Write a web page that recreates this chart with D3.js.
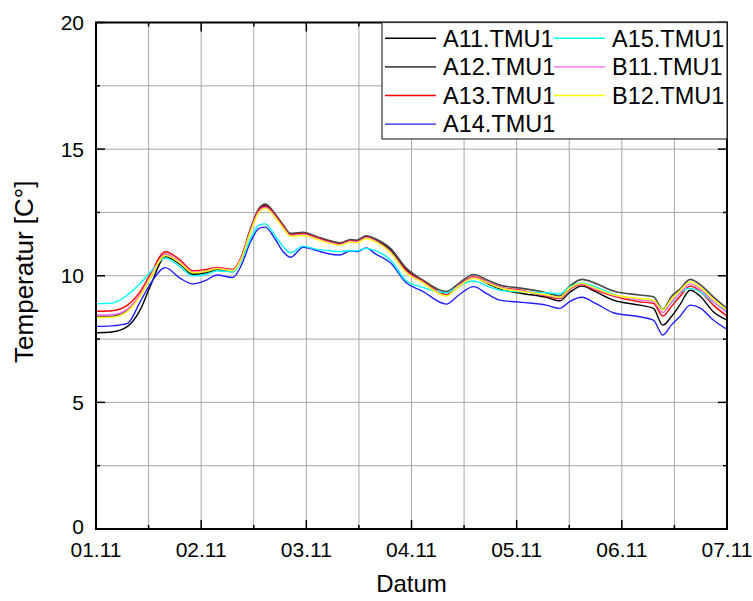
<!DOCTYPE html>
<html>
<head>
<meta charset="utf-8">
<script src="https://cdn.jsdelivr.net/npm/d3@7"></script>
<style>
  body { margin: 0; background: #fff; }
  svg text { font-family: "Liberation Sans", Arial, sans-serif; fill: #000; }
</style>
</head>
<body>
<div id="chart"></div>
<script>
// time in days after 01.11 00:00
const days = [0, 0.15, 0.3, 0.42, 0.52, 0.66, 0.8, 0.92, 1.05, 1.15, 1.3, 1.38, 1.47, 1.55, 1.61, 1.7, 1.78, 1.85, 1.97, 2.1,
  2.2, 2.32, 2.42, 2.48, 2.57, 2.65, 2.8, 2.95, 3.1, 3.33, 3.45, 3.59, 3.72, 3.84, 4.05, 4.28, 4.41, 4.5, 4.62, 4.75,
  4.92, 5.17, 5.3, 5.39, 5.47, 5.55, 5.65, 5.75, 5.87, 6.0];

const a11 = [7.75, 7.78, 8.0, 8.65, 9.63, 10.75, 10.45, 10.05, 10.12, 10.22, 10.17, 10.65, 11.8, 12.6, 12.78, 12.42, 11.95, 11.62, 11.66, 11.5,
  11.37, 11.26, 11.39, 11.36, 11.54, 11.43, 11.03, 10.24, 9.78, 9.25, 9.58, 9.92, 9.7, 9.48, 9.3, 9.15, 9.01, 9.33, 9.59, 9.37,
  9.04, 8.84, 8.71, 8.05, 8.38, 8.84, 9.43, 9.17, 8.58, 8.25];
const a12 = [8.4, 8.4, 8.65, 9.24, 9.96, 10.85, 10.49, 10.1, 10.16, 10.25, 10.2, 10.7, 11.87, 12.66, 12.83, 12.46, 12.0, 11.67, 11.71, 11.54,
  11.41, 11.3, 11.43, 11.4, 11.58, 11.47, 11.08, 10.3, 9.85, 9.37, 9.7, 10.05, 9.83, 9.63, 9.5, 9.33, 9.2, 9.57, 9.86, 9.7,
  9.4, 9.24, 9.17, 8.67, 9.17, 9.46, 9.86, 9.63, 9.17, 8.7];
const a13 = [8.6, 8.62, 8.84, 9.37, 10.09, 10.95, 10.62, 10.2, 10.25, 10.33, 10.25, 10.72, 11.82, 12.6, 12.75, 12.4, 11.95, 11.62, 11.66, 11.5,
  11.37, 11.25, 11.38, 11.35, 11.52, 11.4, 10.95, 10.2, 9.8, 9.25, 9.62, 9.96, 9.75, 9.55, 9.42, 9.2, 9.1, 9.45, 9.65, 9.43,
  9.2, 8.97, 8.91, 8.41, 8.78, 9.17, 9.59, 9.37, 8.84, 8.41];
const a14 = [8.0, 8.02, 8.12, 8.97, 9.7, 10.32, 9.9, 9.68, 9.83, 10.03, 9.93, 10.4, 11.34, 11.87, 11.92, 11.47, 10.95, 10.73, 11.12, 10.99,
  10.88, 10.82, 10.99, 10.95, 11.1, 10.88, 10.51, 9.72, 9.4, 8.88, 9.24, 9.57, 9.28, 9.04, 8.95, 8.84, 8.71, 8.97, 9.15, 8.91,
  8.54, 8.38, 8.25, 7.66, 8.05, 8.38, 8.84, 8.71, 8.25, 7.88];
const a15 = [8.9, 8.92, 9.24, 9.7, 10.16, 10.7, 10.35, 10.0, 10.06, 10.2, 10.15, 10.6, 11.47, 12.0, 12.05, 11.6, 11.15, 10.91, 11.17, 11.04,
  11.0, 10.95, 11.0, 10.98, 11.08, 11.0, 10.62, 9.8, 9.55, 9.33, 9.6, 9.79, 9.59, 9.43, 9.37, 9.33, 9.28, 9.55, 9.72, 9.56,
  9.27, 9.05, 9.0, 8.65, 8.91, 9.3, 9.5, 9.35, 8.95, 8.62];
const b11 = [8.45, 8.46, 8.68, 9.26, 10.0, 10.84, 10.54, 10.15, 10.2, 10.3, 10.22, 10.68, 11.78, 12.55, 12.7, 12.36, 11.91, 11.59, 11.63, 11.47,
  11.34, 11.23, 11.36, 11.33, 11.5, 11.39, 10.94, 10.15, 9.77, 9.22, 9.6, 9.93, 9.74, 9.54, 9.4, 9.23, 9.13, 9.48, 9.68, 9.47,
  9.23, 9.05, 8.98, 8.55, 8.95, 9.3, 9.68, 9.45, 8.97, 8.55];
const b12 = [8.35, 8.36, 8.6, 9.2, 9.95, 10.8, 10.5, 10.12, 10.18, 10.28, 10.2, 10.65, 11.75, 12.5, 12.66, 12.32, 11.88, 11.56, 11.6, 11.44,
  11.31, 11.2, 11.33, 11.3, 11.47, 11.36, 10.92, 10.12, 9.75, 9.2, 9.58, 9.9, 9.72, 9.52, 9.38, 9.25, 9.15, 9.5, 9.7, 9.5,
  9.25, 9.1, 9.04, 8.65, 9.07, 9.4, 9.76, 9.52, 9.07, 8.65];

const seriesNames = ["A11.TMU1", "A12.TMU1", "A13.TMU1", "A14.TMU1", "A15.TMU1", "B11.TMU1", "B12.TMU1"];
const seriesValues = [a11, a12, a13, a14, a15, b11, b12];
const seriesColors = ["#000000", "#4a4a4a", "#ff0000", "#2020ff", "#00ffff", "#ff66ff", "#ffff00"];

const dayLabels = ["01.11", "02.11", "03.11", "04.11", "05.11", "06.11", "07.11"];
const yLabels = [0, 5, 10, 15, 20];

const width = 753, height = 601;
const margin = {top: 22.5, right: 26, bottom: 72, left: 96};

const svg = d3.select("#chart").append("svg")
  .attr("width", width)
  .attr("height", height);

const x = d3.scaleLinear().domain([0, 6]).range([margin.left, width - margin.right]);
const y = d3.scaleLinear().domain([0, 20]).range([height - margin.bottom, margin.top]);

const x0 = x(0), x1 = x(6), y0 = y(0), y1 = y(20);

// grid
const grid = svg.append("g").attr("stroke", "#a6a6a6").attr("stroke-width", 1);
d3.range(0.5, 6, 0.5).forEach(d => {
  grid.append("line").attr("x1", x(d)).attr("x2", x(d)).attr("y1", y0).attr("y2", y1);
});
d3.range(2.5, 20, 2.5).forEach(v => {
  grid.append("line").attr("x1", x0).attr("x2", x1).attr("y1", y(v)).attr("y2", y(v));
});

// curves
svg.append("clipPath").attr("id", "clip")
  .append("rect").attr("x", x0).attr("y", y1).attr("width", x1 - x0).attr("height", y0 - y1);

const line = d3.line()
  .x((d, i) => x(days[i]))
  .y(d => y(d))
  .curve(d3.curveMonotoneX);

svg.append("g").attr("clip-path", "url(#clip)")
  .selectAll("path")
  .data(seriesValues)
  .enter().append("path")
  .attr("fill", "none")
  .attr("stroke", (d, i) => seriesColors[i])
  .attr("stroke-width", (d, i) => i == 1 ? 1.7 : 1.4)
  .attr("d", line);

// ticks, inward on all sides
const ticks = svg.append("g").attr("stroke", "#000").attr("stroke-width", 1.5);
d3.range(0, 6.01, 0.5).forEach(d => {
  const len = d % 1 == 0 ? 9 : 4;
  ticks.append("line").attr("x1", x(d)).attr("x2", x(d)).attr("y1", y0).attr("y2", y0 - len);
  ticks.append("line").attr("x1", x(d)).attr("x2", x(d)).attr("y1", y1).attr("y2", y1 + len);
});
d3.range(0, 20.01, 2.5).forEach(v => {
  const len = v % 5 == 0 ? 9 : 4;
  ticks.append("line").attr("x1", x0).attr("x2", x0 + len).attr("y1", y(v)).attr("y2", y(v));
  ticks.append("line").attr("x1", x1).attr("x2", x1 - len).attr("y1", y(v)).attr("y2", y(v));
});

// frame
svg.append("rect")
  .attr("x", x0).attr("y", y1)
  .attr("width", x1 - x0).attr("height", y0 - y1)
  .attr("fill", "none").attr("stroke", "#000").attr("stroke-width", 2);

// tick labels
svg.append("g").selectAll("text")
  .data(dayLabels).enter().append("text")
  .attr("x", (d, i) => x(i))
  .attr("y", y0 + 28)
  .attr("text-anchor", "middle")
  .style("font-size", "21px")
  .text(d => d);

svg.append("g").selectAll("text")
  .data(yLabels).enter().append("text")
  .attr("x", x0 - 12)
  .attr("y", d => d == 0 ? y(d) + 5 : y(d) + 7.5)
  .attr("text-anchor", "end")
  .style("font-size", "21px")
  .text(d => d);

// axis titles
svg.append("text")
  .attr("x", (x0 + x1) / 2)
  .attr("y", 592)
  .attr("text-anchor", "middle")
  .style("font-size", "24px")
  .text("Datum");

svg.append("text")
  .attr("transform", `translate(33,${(y0 + y1) / 2 - 4}) rotate(-90)`)
  .attr("text-anchor", "middle")
  .style("font-size", "26px")
  .text("Temperatur [C°]");

// legend
const lg = svg.append("g");
lg.append("rect")
  .attr("x", 382).attr("y", y1)
  .attr("width", x1 - 382).attr("height", 139 - y1)
  .attr("fill", "#fff").attr("stroke", "#333").attr("stroke-width", 1.2);

seriesNames.forEach((name, i) => {
  const col = i < 4 ? 0 : 1;
  const row = i < 4 ? i : i - 4;
  const lx = col == 0 ? 385 : 554;
  const ly = 38.3 + row * 28.6;
  lg.append("line")
    .attr("x1", lx).attr("x2", lx + 51)
    .attr("y1", ly).attr("y2", ly)
    .attr("stroke", seriesColors[i])
    .attr("stroke-width", i == 1 ? 1.7 : 1.4);
  lg.append("text")
    .attr("x", lx + 58)
    .attr("y", ly + 8.3)
    .style("font-size", "23.5px")
    .text(name);
});
</script>
</body>
</html>
